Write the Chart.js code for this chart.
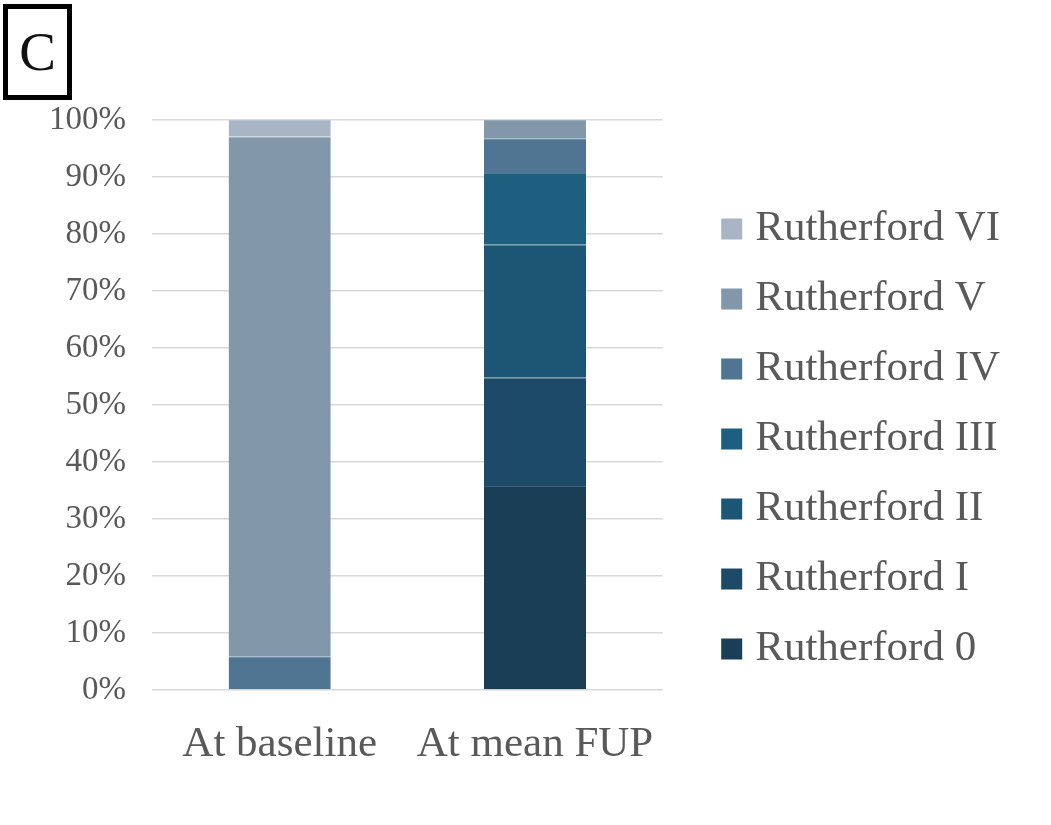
<!DOCTYPE html>
<html>
<head>
<meta charset="utf-8">
<script src="https://cdn.jsdelivr.net/npm/chart.js@4"></script>
<style>
  html, body { margin: 0; padding: 0; background: #ffffff; }
  #wrap { position: relative; width: 1051px; height: 825px; }
  #panel { position: absolute; left: 3px; top: 4px; width: 59px; height: 86px; border: 5px solid #000;
           font-family: 'Liberation Serif', serif; font-size: 55px; line-height: 86px; text-align: center; color: #111; }
  canvas { position: absolute; left: 0; top: 0; }
</style>
</head>
<body>
<div id="wrap">
  <canvas id="c" width="1051" height="825"></canvas>
  <div id="panel">C</div>
</div>
<script>
const categories = ['At baseline', 'At mean FUP'];
const seriesNames = ['Rutherford 0', 'Rutherford I', 'Rutherford II', 'Rutherford III', 'Rutherford IV', 'Rutherford V', 'Rutherford VI'];
const r0   = [null, 35.8];
const rI   = [null, 19.0];
const rII  = [null, 23.3];
const rIII = [null, 12.6];
const rIV  = [5.9, 6.1];
const rV   = [91.2, 3.2];
const rVI  = [2.9, null];
const yTicks = [0, 10, 20, 30, 40, 50, 60, 70, 80, 90, 100];
const colors = ['#1b3e57', '#1d4a67', '#1d5574', '#1e5e7f', '#4f7592', '#8397aa', '#a7b5c4'];

const seriesValues = [r0, rI, rII, rIII, rIV, rV, rVI];
const FONT = "'Liberation Serif', 'Times New Roman', serif";
const TXT = '#595959';

function lighten(hex, f) {
  const n = parseInt(hex.slice(1), 16);
  const ch = [(n >> 16) & 255, (n >> 8) & 255, n & 255].map(c => Math.round(c + (255 - c) * f));
  return 'rgb(' + ch.join(',') + ')';
}

const datasets = seriesNames.map((name, i) => ({
  label: name,
  data: seriesValues[i],
  backgroundColor: colors[i],
  borderColor: lighten(colors[i], 0.18),
  borderWidth: { top: 1, left: 0, right: 0, bottom: 0 },
  borderSkipped: false,
  barPercentage: 0.4,
  categoryPercentage: 1.0
}));

new Chart(document.getElementById('c'), {
  type: 'bar',
  data: { labels: categories, datasets },
  options: {
    responsive: false,
    devicePixelRatio: 1,
    animation: false,
    layout: { padding: { top: 120, bottom: 67, left: 0, right: 41 } },
    plugins: {
      legend: {
        position: 'right',
        reverse: true,
        align: 'center',
        maxWidth: 400,
        labels: {
          font: { family: FONT, size: 43 },
          color: TXT,
          usePointStyle: true,
          pointStyle: 'rect',
          boxWidth: 4,
          boxHeight: 21,
          padding: 27,
          generateLabels: (chart) => Chart.defaults.plugins.legend.labels.generateLabels(chart).map(l => Object.assign(l, { strokeStyle: colors[l.datasetIndex], lineWidth: 0 }))
        }
      },
      tooltip: { enabled: false }
    },
    scales: {
      x: {
        stacked: true,
        afterFit: (s) => { s.height = 68; },
        grid: { display: false },
        border: { display: false },
        ticks: { font: { family: FONT, size: 43 }, color: TXT, padding: 21, maxRotation: 0 }
      },
      y: {
        stacked: true,
        min: 0,
        max: 100,
        afterFit: (s) => { s.width = 152; },
        afterBuildTicks: (s) => { s.ticks = yTicks.map(v => ({ value: v })); },
        grid: { color: '#d9d9d9', lineWidth: 1.5, drawTicks: false },
        border: { display: false },
        ticks: { font: { family: FONT, size: 33 }, color: TXT, padding: 26, callback: (v) => v + '%' }
      },
      yR: {
        position: 'right',
        display: true,
        afterFit: (s) => { s.width = 40; },
        grid: { display: false },
        border: { display: false },
        ticks: { display: false }
      }
    }
  }
});
</script>
</body>
</html>
